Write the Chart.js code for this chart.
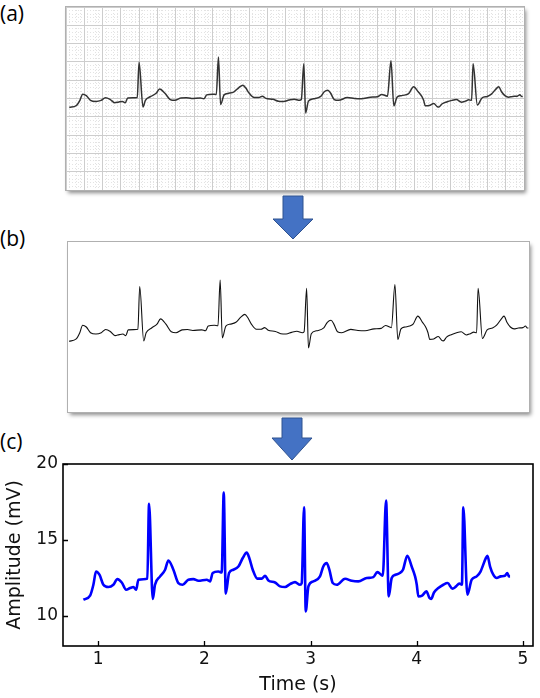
<!DOCTYPE html>
<html><head><meta charset="utf-8">
<script src="https://cdn.jsdelivr.net/npm/chart.js@4.4.1/dist/chart.umd.min.js"></script>
<style>
html,body{margin:0;padding:0;background:#fff;}
#page{position:relative;width:540px;height:698px;overflow:hidden;font-family:'Open Sans',sans-serif;}
.lbl{position:absolute;left:0;font-size:21px;color:#000;line-height:24px;}
.panel{position:absolute;background:#fff;box-shadow:0 0 0 1px #b0b0b0, 2px 3px 4px rgba(0,0,0,0.45);}
canvas{display:block;}
svg{position:absolute;left:0;top:0;}
</style></head><body>
<div id="page">
  <div class="lbl" style="top:1px">(a)</div>
  <div class="panel" style="left:66px;top:7px;width:458px;height:183px"><canvas id="ca" width="458" height="183"></canvas></div>
  <div class="lbl" style="top:226px">(b)</div>
  <div class="panel" style="left:68px;top:242px;width:461px;height:170px"><canvas id="cb" width="461" height="170"></canvas></div>
  <div class="lbl" style="top:429px">(c)</div>
  <canvas id="cc" width="540" height="258" style="position:absolute;left:0;top:440px"></canvas>
  <svg width="540" height="698">
    <polygon points="283,196 303,196 303,219 313,219 293,239 273,219 283,219" fill="#4472C4" stroke="#2F528F" stroke-width="1"/>
    <polygon points="282,418 302,418 302,438 312,438 292,460 272,438 282,438" fill="#4472C4" stroke="#2F528F" stroke-width="1"/>
  </svg>
</div>
<script>
// ECG trace: time (s) and amplitude (mV)
const time = [0.862, 0.925, 0.956, 0.981, 1.013, 1.05, 1.097, 1.144, 1.182, 1.223,
  1.264, 1.301, 1.333, 1.358, 1.38, 1.427, 1.464, 1.48, 1.515, 1.536,
  1.584, 1.631, 1.662, 1.709, 1.756, 1.797, 1.85, 1.897, 1.944, 2.023,
  2.054, 2.079, 2.132, 2.164, 2.183, 2.202, 2.233, 2.274, 2.321, 2.362,
  2.399, 2.424, 2.456, 2.50, 2.54, 2.572, 2.603, 2.666, 2.713, 2.76,
  2.807, 2.854, 2.901, 2.917, 2.939, 2.955, 2.98, 3.026, 3.089, 3.12,
  3.152, 3.177, 3.209, 3.246, 3.325, 3.388, 3.45, 3.529, 3.591, 3.629,
  3.68, 3.711, 3.736, 3.764, 3.80, 3.84, 3.87, 3.911, 3.952, 3.984,
  4.0, 4.015, 4.05, 4.09, 4.12, 4.135, 4.162, 4.203, 4.25, 4.29,
  4.335, 4.37, 4.40, 4.425, 4.438, 4.476, 4.517, 4.564, 4.60, 4.65,
  4.665, 4.69, 4.72, 4.752, 4.79, 4.83, 4.852, 4.868, 4.878];
const amplitude = [11.05, 11.32, 12.04, 12.91, 12.70, 12.04, 11.89, 12.04, 12.41, 12.19,
  11.71, 11.82, 11.89, 11.71, 12.37, 12.40, 12.44, 17.37, 11.10, 12.04,
  12.59, 13.03, 13.64, 13.03, 12.15, 12.04, 12.37, 12.41, 12.30, 12.37,
  12.26, 12.81, 12.91, 12.85, 18.11, 11.45, 12.81, 13.03, 13.24, 13.80,
  14.16, 13.79, 13.03, 12.44, 12.44, 12.63, 12.32, 12.19, 11.93, 11.89,
  12.08, 12.21, 12.04, 12.15, 17.15, 10.28, 11.93, 12.26, 12.59, 13.24,
  13.47, 13.03, 12.15, 12.04, 12.43, 12.30, 12.26, 12.48, 12.54, 12.87,
  12.63, 17.59, 11.27, 12.48, 12.70, 12.81, 13.03, 13.95, 13.24, 12.59,
  12.04, 11.27, 11.32, 11.60, 11.16, 11.10, 11.53, 11.82, 12.04, 12.15,
  11.78, 11.93, 12.11, 12.04, 17.15, 11.38, 12.37, 12.59, 12.91, 13.79,
  13.95, 13.24, 12.70, 12.48, 12.59, 12.63, 12.81, 12.59, 12.59];
const xTicks = [1, 2, 3, 4, 5];
const yTicks = [10, 15, 20];
const xTitle = 'Time (s)';
const yTitle = 'Amplitude (mV)';

const pts = time.map((t, i) => ({x: t, y: amplitude[i]}));

Chart.defaults.font.family = 'DejaVu Sans';

function trace(color, width) {
  return {data: pts, borderColor: color, borderWidth: width, pointRadius: 0,
    cubicInterpolationMode: 'monotone', fill: false, xAxisID: 'x', yAxisID: 'y'};
}
const isMult = (v, m) => Math.abs(v / m - Math.round(v / m)) < 1e-6;
function gridAxis(axis, min, max, step, colorFn, dash, reverse) {
  return {
    type: 'linear', axis: axis, position: axis === 'x' ? 'bottom' : 'left',
    min: min, max: max, reverse: !!reverse,
    ticks: {display: false, stepSize: step, includeBounds: false, autoSkip: false},
    grid: {drawTicks: false, lineWidth: 1, color: colorFn},
    border: {display: false, dash: dash},
    afterFit: s => { if (axis === 'x') s.height = 0; else s.width = 0; }
  };
}
const base = {
  responsive: false, animation: false, devicePixelRatio: 1,
  layout: {padding: 0, autoPadding: false},
  plugins: {legend: {display: false}, tooltip: {enabled: false}},
  events: []
};

// (a) ECG paper with grid
const minorC = c => (c.tick && isMult(c.tick.value, 25)) ? '#9c9c9c' : '#cdcdcd';
const minorY = c => '#cdcdcd';
const dotC = c => (c.tick && isMult(c.tick.value, 5)) ? 'rgba(0,0,0,0)' : '#e3e3e3';
new Chart(document.getElementById('ca'), {
  type: 'line',
  data: {datasets: [trace('#333333', 1.5)]},
  options: Object.assign({}, base, {
    scales: {
      gxd: gridAxis('x', -12, 113, 1, dotC, [1, 2]),
      gyd: gridAxis('y', 0, 50, 1, dotC, [1, 2], true),
      gx: gridAxis('x', -12, 113, 5, minorC, []),
      gy: gridAxis('y', 0, 50, 5, minorY, [], true),
      x: {type: 'linear', display: false, min: 0.833, max: 4.889},
      y: {type: 'linear', display: false, min: -0.5, max: 25.1}
    }
  })
});

// (b) extracted trace
new Chart(document.getElementById('cb'), {
  type: 'line',
  data: {datasets: [trace('#111111', 1.1)]},
  options: Object.assign({}, base, {
    scales: {
      x: {type: 'linear', display: false, min: 0.853, max: 4.883},
      y: {type: 'linear', display: false, min: 2.9, max: 22.5}
    }
  })
});

// (c) digitised signal
const frameTicks = {
  id: 'frameTicks',
  afterDraw(chart) {
    const {ctx, chartArea: a, scales: {x, y}} = chart;
    ctx.save();
    ctx.strokeStyle = '#000';
    ctx.lineWidth = 1.6;
    ctx.strokeRect(a.left, a.top, a.right - a.left, a.bottom - a.top);
    ctx.lineWidth = 1.3;
    ctx.beginPath();
    y.ticks.forEach(t => { const p = Math.round(y.getPixelForValue(t.value)) + 0.5; ctx.moveTo(a.left, p); ctx.lineTo(a.left + 5, p); });
    x.ticks.forEach(t => { const p = Math.round(x.getPixelForValue(t.value)) + 0.5; ctx.moveTo(p, a.bottom); ctx.lineTo(p, a.bottom - 5); });
    ctx.stroke();
    ctx.restore();
  }
};
new Chart(document.getElementById('cc'), {
  type: 'line',
  data: {datasets: [trace('#0000ff', 2.6)]},
  options: Object.assign({}, base, {
    layout: {padding: {left: 0, top: 24, right: 7, bottom: 0}, autoPadding: false},
    scales: {
      x: {type: 'linear', min: 0.67, max: 5.094,
        afterBuildTicks: s => { s.ticks = xTicks.map(v => ({value: v})); },
        grid: {display: false, drawTicks: false}, border: {display: false},
        ticks: {color: '#111', font: {size: 17}, padding: 3, maxRotation: 0, autoSkip: false},
        title: {display: true, text: xTitle, color: '#111', font: {size: 19}, padding: {top: 0, bottom: 2}},
        afterFit: s => { s.height = 52; }},
      y: {type: 'linear', min: 8, max: 20,
        afterBuildTicks: s => { s.ticks = yTicks.map(v => ({value: v})); },
        grid: {display: false, drawTicks: false}, border: {display: false},
        ticks: {color: '#111', font: {size: 17}, padding: 5, autoSkip: false},
        title: {display: true, text: yTitle, color: '#111', font: {size: 19}, padding: {top: 4, bottom: 0}},
        afterFit: s => { s.width = 63; }}
    }
  }),
  plugins: [frameTicks]
});
</script>
</body></html>
